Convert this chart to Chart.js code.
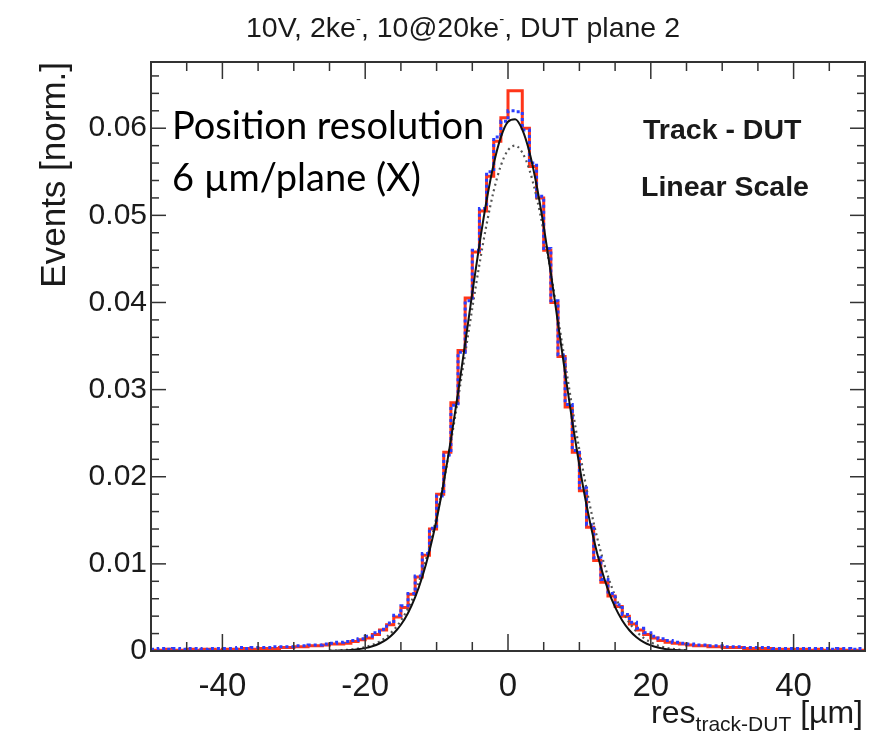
<!DOCTYPE html>
<html><head><meta charset="utf-8">
<script src="https://cdn.jsdelivr.net/npm/chart.js@4.4.1/dist/chart.umd.min.js"></script>
<style>html,body{margin:0;padding:0;background:#fff;}#wrap{width:881px;height:736px;position:relative}</style>
</head><body><div id="wrap"><canvas id="c" width="881" height="736"></canvas></div>
<script>
// ---- data ----
const histLow = -50;          // first bin low edge [µm]
const histBinWidth = 1;       // bin width [µm]
const redCounts = [
0.0001,0.0001,0.0002,0.0001,0.0001,0.0002,0.0001,0.0002,0.0002,0.0001,
0.0002,0.0002,0.0002,0.0003,0.0002,0.0003,0.0003,0.0003,0.0004,0.0004,
0.0005,0.0005,0.0006,0.0006,0.0007,0.0008,0.0008,0.0009,0.0011,0.0013,
0.0015,0.0019,0.0024,0.0030,0.0039,0.0050,0.0065,0.0085,0.0110,0.0140,
0.0180,0.0228,0.0285,0.0345,0.0405,0.0458,0.0505,0.0545,0.0585,0.0612,
0.0643,0.0643,0.0600,0.0556,0.0520,0.0460,0.0400,0.0338,0.0280,0.0228,
0.0184,0.0142,0.0104,0.0079,0.0063,0.0051,0.0040,0.0031,0.0024,0.0019,
0.0015,0.0012,0.0010,0.0009,0.0008,0.0007,0.0006,0.0006,0.0005,0.0005,
0.0004,0.0004,0.0004,0.0003,0.0003,0.0003,0.0003,0.0002,0.0002,0.0002,
0.0002,0.0002,0.0001,0.0002,0.0001,0.0001,0.0002,0.0001,0.0001,0.0001];
const blueCounts = [
0.0002,0.0003,0.0002,0.0003,0.0002,0.0003,0.0003,0.0002,0.0003,0.0003,
0.0003,0.0003,0.0004,0.0003,0.0004,0.0004,0.0004,0.0005,0.0005,0.0005,
0.0006,0.0006,0.0007,0.0007,0.0008,0.0009,0.0010,0.0011,0.0012,0.0014,
0.0017,0.0021,0.0025,0.0032,0.0041,0.0052,0.0066,0.0086,0.0112,0.0141,
0.0178,0.0225,0.0282,0.0343,0.0402,0.0460,0.0508,0.0550,0.0590,0.0608,
0.0620,0.0619,0.0598,0.0560,0.0522,0.0462,0.0402,0.0340,0.0283,0.0230,
0.0187,0.0145,0.0107,0.0082,0.0066,0.0053,0.0042,0.0033,0.0026,0.0021,
0.0017,0.0014,0.0012,0.0010,0.0009,0.0008,0.0007,0.0007,0.0006,0.0006,
0.0005,0.0005,0.0005,0.0004,0.0004,0.0004,0.0004,0.0003,0.0003,0.0003,
0.0003,0.0003,0.0003,0.0003,0.0003,0.0002,0.0003,0.0003,0.0002,0.0003];
const fitStart = -25, fitStep = 1;
const fitSolid = [0.00002,0.00004,0.00006,0.00011,0.00020,0.00033,0.00054,0.00086,0.00133,0.00203,
0.00301,0.00437,0.00618,0.00853,0.01149,0.01510,0.01937,0.02426,0.02963,0.03532,
0.04110,0.04666,0.05170,0.05590,0.05898,0.06074,0.06103,0.05985,0.05728,0.05349,
0.04876,0.04336,0.03764,0.03188,0.02635,0.02126,0.01674,0.01286,0.00964,0.00705,
0.00503,0.00351,0.00238,0.00158,0.00102,0.00065,0.00040,0.00024,0.00014,0.00008,0.00005];
const fitDotted = [0.000033,0.000058,0.0001,0.00017,0.00028,0.00045,0.0007,0.00108,0.00163,0.00241,
0.00347,0.00489,0.00674,0.00909,0.01198,0.01544,0.01947,0.024,0.02894,0.03413,
0.03936,0.04439,0.04896,0.05282,0.05571,0.05748,0.058,0.05722,0.05522,0.05211,
0.0481,0.04341,0.03832,0.03308,0.02793,0.02306,0.01862,0.0147,0.01136,0.00858,
0.00633,0.00458,0.00323,0.00223,0.00151,0.001,0.00064,0.00041,0.00025,0.00015,0.00009];
const xTickValues = [-40, -20, 0, 20, 40];
const xTickLabels = ['-40', '-20', '0', '20', '40'];
const yTickValues = [0, 0.01, 0.02, 0.03, 0.04, 0.05, 0.06];
const yTickLabels = ['0', '0.01', '0.02', '0.03', '0.04', '0.05', '0.06'];
const xRange = [-50, 50];
const yRange = [0, 0.0676];

// ---- build datasets ----
function histPoints(counts){
  const pts = [{x: histLow, y: counts[0]}];
  counts.forEach((v,i)=>pts.push({x: histLow + (i+0.5)*histBinWidth, y: v}));
  pts.push({x: histLow + counts.length*histBinWidth, y: counts[counts.length-1]});
  return pts;
}
function curvePoints(vals){ return vals.map((v,i)=>({x: fitStart + i*fitStep, y: v})); }

const FONT = '"Liberation Sans", Arial, Helvetica, sans-serif';

const decor = {
  id: 'decor',
  afterDatasetsDraw(chart){
    const {ctx, chartArea: a, scales: {x, y}} = chart;
    ctx.save();
    ctx.strokeStyle = '#333'; ctx.lineWidth = 1.5;
    const seg = (x1,y1,x2,y2)=>{ctx.beginPath();ctx.moveTo(x1,y1);ctx.lineTo(x2,y2);ctx.stroke();};
    for (let k = -10; k <= 10; k++) {
      const v = k*5, px = x.getPixelForValue(v);
      const L = (v % 20 === 0) ? 17 : 9;
      seg(px, a.bottom, px, a.bottom - L);
      seg(px, a.top, px, a.top + L);
    }
    for (let k = 0; k <= 33; k++) {
      const v = k*0.002; if (v > yRange[1]) break;
      const py = y.getPixelForValue(v);
      const L = (k % 5 === 0) ? 15 : 8;
      seg(a.left, py, a.left + L, py);
      seg(a.right, py, a.right - L, py);
    }
    ctx.lineWidth = 2; ctx.strokeStyle = '#333';
    ctx.strokeRect(a.left, a.top, a.right - a.left, a.bottom - a.top);
    ctx.restore();
  },
  afterDraw(chart){
    const {ctx, chartArea: a} = chart;
    ctx.save();
    ctx.fillStyle = '#1a1a1a';
    ctx.textBaseline = 'alphabetic';
    // title with superscripts
    const runs = [['10V, 2ke',0],['-',1],[', 10@20ke',0],['-',1],[', DUT plane 2',0]];
    const fs = 28.5;
    let total = 0;
    runs.forEach(([t,s])=>{ctx.font = (s?15:fs)+'px '+FONT; total += ctx.measureText(t).width;});
    let cx = 463 - total/2;
    runs.forEach(([t,s])=>{ctx.font = (s?15:fs)+'px '+FONT; ctx.fillText(t, cx, s?24:37); cx += ctx.measureText(t).width;});
    // y axis title
    ctx.save();
    ctx.translate(65, a.top);
    ctx.rotate(-Math.PI/2);
    ctx.font = '35px '+FONT; ctx.textAlign = 'right';
    ctx.fillText('Events [norm.]', 0, 0);
    ctx.restore();
    // x axis title
    ctx.textAlign = 'left';
    const parts = [['res',32,0],['track-DUT',21,8],[' [\u00b5m]',32,0]];
    let w = 0;
    parts.forEach(([t,s])=>{ctx.font = s+'px '+FONT; w += ctx.measureText(t).width;});
    let px = a.right - 2 - w;
    parts.forEach(([t,s,o])=>{ctx.font = s+'px '+FONT; ctx.fillText(t, px, 723 + o); px += ctx.measureText(t).width;});
    // annotations
    ctx.font = '38px Lato, "Open Sans", sans-serif';
    ctx.fillStyle = '#000';
    ctx.fillText('Position resolution', 172, 139);
    ctx.fillText('6 \u00b5m/plane (X)', 172, 191);
    ctx.font = 'bold 28.5px '+FONT;
    ctx.fillStyle = '#1a1a1a';
    ctx.fillText('Track - DUT', 643, 139);
    ctx.fillText('Linear Scale', 641, 196);
    ctx.restore();
  }
};

new Chart(document.getElementById('c'), {
  type: 'line',
  data: {
    datasets: [
      {label: 'fit', data: curvePoints(fitSolid), borderColor: '#111', borderWidth: 2,
       pointRadius: 0, tension: 0.4, cubicInterpolationMode: 'monotone', order: 1},
      {label: 'blue', data: histPoints(blueCounts), borderColor: '#2a3dff', borderWidth: 3,
       borderDash: [3, 3], pointRadius: 0, stepped: 'middle', order: 2},
      {label: 'fit2', data: curvePoints(fitDotted), borderColor: '#555', borderWidth: 2.2,
       borderDash: [2, 3.5], pointRadius: 0, tension: 0.4, cubicInterpolationMode: 'monotone', order: 3},
      {label: 'red', data: histPoints(redCounts), borderColor: '#ff3519', borderWidth: 3,
       pointRadius: 0, stepped: 'middle', order: 4}
    ]
  },
  options: {
    responsive: false, animation: false, devicePixelRatio: 1,
    layout: {padding: {top: 62, right: 16, left: 0, bottom: 0}},
    plugins: {legend: {display: false}, tooltip: {enabled: false}, title: {display: false}},
    scales: {
      x: {type: 'linear', min: xRange[0], max: xRange[1],
          grid: {display: false, drawTicks: false}, border: {display: false},
          afterBuildTicks: s => { s.ticks = xTickValues.map(v => ({value: v})); },
          afterFit: s => { s.height = 85; },
          ticks: {autoSkip: false, maxRotation: 0, padding: 16, color: '#1a1a1a',
                  font: {family: FONT, size: 33},
                  callback: (v, i) => xTickLabels[i]}},
      y: {type: 'linear', min: yRange[0], max: yRange[1],
          grid: {display: false, drawTicks: false}, border: {display: false},
          afterBuildTicks: s => { s.ticks = yTickValues.map(v => ({value: v})); },
          afterFit: s => { s.width = 151; },
          ticks: {autoSkip: false, padding: 4, color: '#1a1a1a',
                  font: {family: FONT, size: 30},
                  callback: (v, i) => yTickLabels[i]}}
    }
  },
  plugins: [decor]
});
</script></body></html>
